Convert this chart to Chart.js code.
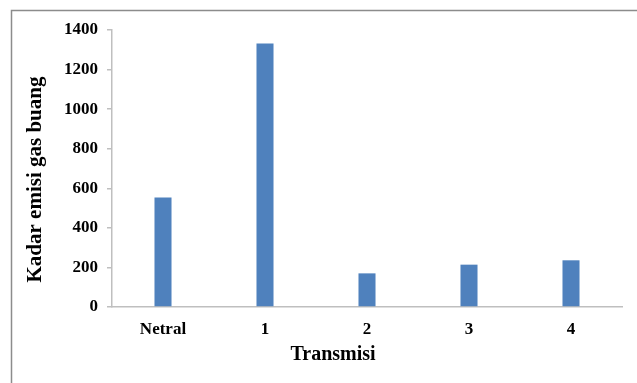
<!DOCTYPE html>
<html>
<head>
<meta charset="utf-8">
<script src="https://cdn.jsdelivr.net/npm/chart.js@4/dist/chart.umd.min.js"></script>
<style>
  html, body { margin: 0; padding: 0; background: #fff; }
  #wrap { position: relative; width: 637px; height: 383px; }
</style>
</head>
<body>
<div id="wrap"><canvas id="c" width="637" height="383"></canvas></div>
<script>
// Emission level per transmission gear
const categories = ['Netral', '1', '2', '3', '4'];
const emisi = [553, 1332, 170, 214, 236];
const yTicks = [0, 200, 400, 600, 800, 1000, 1200, 1400];

const xTitle = 'Transmisi';
const yTitle = 'Kadar emisi gas buang';

const fontFamily = '"Liberation Serif", "Times New Roman", serif';

// Outer frame and axis titles
const decor = {
  id: 'decor',
  beforeDraw(chart) {
    const ctx = chart.ctx;
    ctx.save();
    ctx.fillStyle = '#fff';
    ctx.fillRect(0, 0, chart.width, chart.height);
    ctx.strokeStyle = '#8c8c8c';
    ctx.lineWidth = 1.5;
    ctx.beginPath();
    ctx.moveTo(11.5, chart.height + 2);
    ctx.lineTo(11.5, 10.5);
    ctx.lineTo(chart.width + 2, 10.5);
    ctx.stroke();
    ctx.restore();
  },
  afterDraw(chart) {
    const ctx = chart.ctx;
    const area = chart.chartArea;
    ctx.save();
    ctx.fillStyle = '#000';
    ctx.font = 'bold 20px ' + fontFamily;
    ctx.textAlign = 'center';
    ctx.textBaseline = 'middle';
    ctx.fillText(xTitle, area.left + (area.right - area.left) / 2 - 34, 355);
    ctx.translate(36, area.top + (area.bottom - area.top) / 2 + 11);
    ctx.rotate(-Math.PI / 2);
    ctx.font = 'bold 21px ' + fontFamily;
    ctx.fillText(yTitle, 0, 0);
    ctx.restore();
  }
};

new Chart(document.getElementById('c'), {
  type: 'bar',
  data: {
    labels: categories,
    datasets: [{
      data: emisi,
      backgroundColor: '#4F81BD',
      borderWidth: 0,
      categoryPercentage: 1,
      barPercentage: 0.167
    }]
  },
  options: {
    responsive: false,
    animation: false,
    devicePixelRatio: 1,
    layout: { padding: { top: 30, right: 15, left: 0, bottom: 0 } },
    plugins: { legend: { display: false }, tooltip: { enabled: false } },
    scales: {
      x: {
        grid: { display: false, drawTicks: false },
        border: { display: true, color: '#bfbfbf', width: 1.5 },
        ticks: {
          color: '#000',
          padding: 12,
          font: { family: fontFamily, size: 17, weight: 'bold' }
        },
        afterFit(scale) { scale.height = 76; }
      },
      y: {
        min: 0,
        max: 1400,
        afterBuildTicks(scale) { scale.ticks = yTicks.map(v => ({ value: v })); },
        grid: {
          drawOnChartArea: false,
          drawTicks: true,
          tickLength: 5,
          tickColor: '#bfbfbf',
          lineWidth: 1.5
        },
        border: { display: true, color: '#bfbfbf', width: 1.5 },
        ticks: {
          color: '#000',
          padding: 9,
          font: { family: fontFamily, size: 17, weight: 'bold' },
          callback: (v) => String(v)
        },
        afterFit(scale) { scale.width = 112; }
      }
    }
  },
  plugins: [decor]
});
</script>
</body>
</html>
